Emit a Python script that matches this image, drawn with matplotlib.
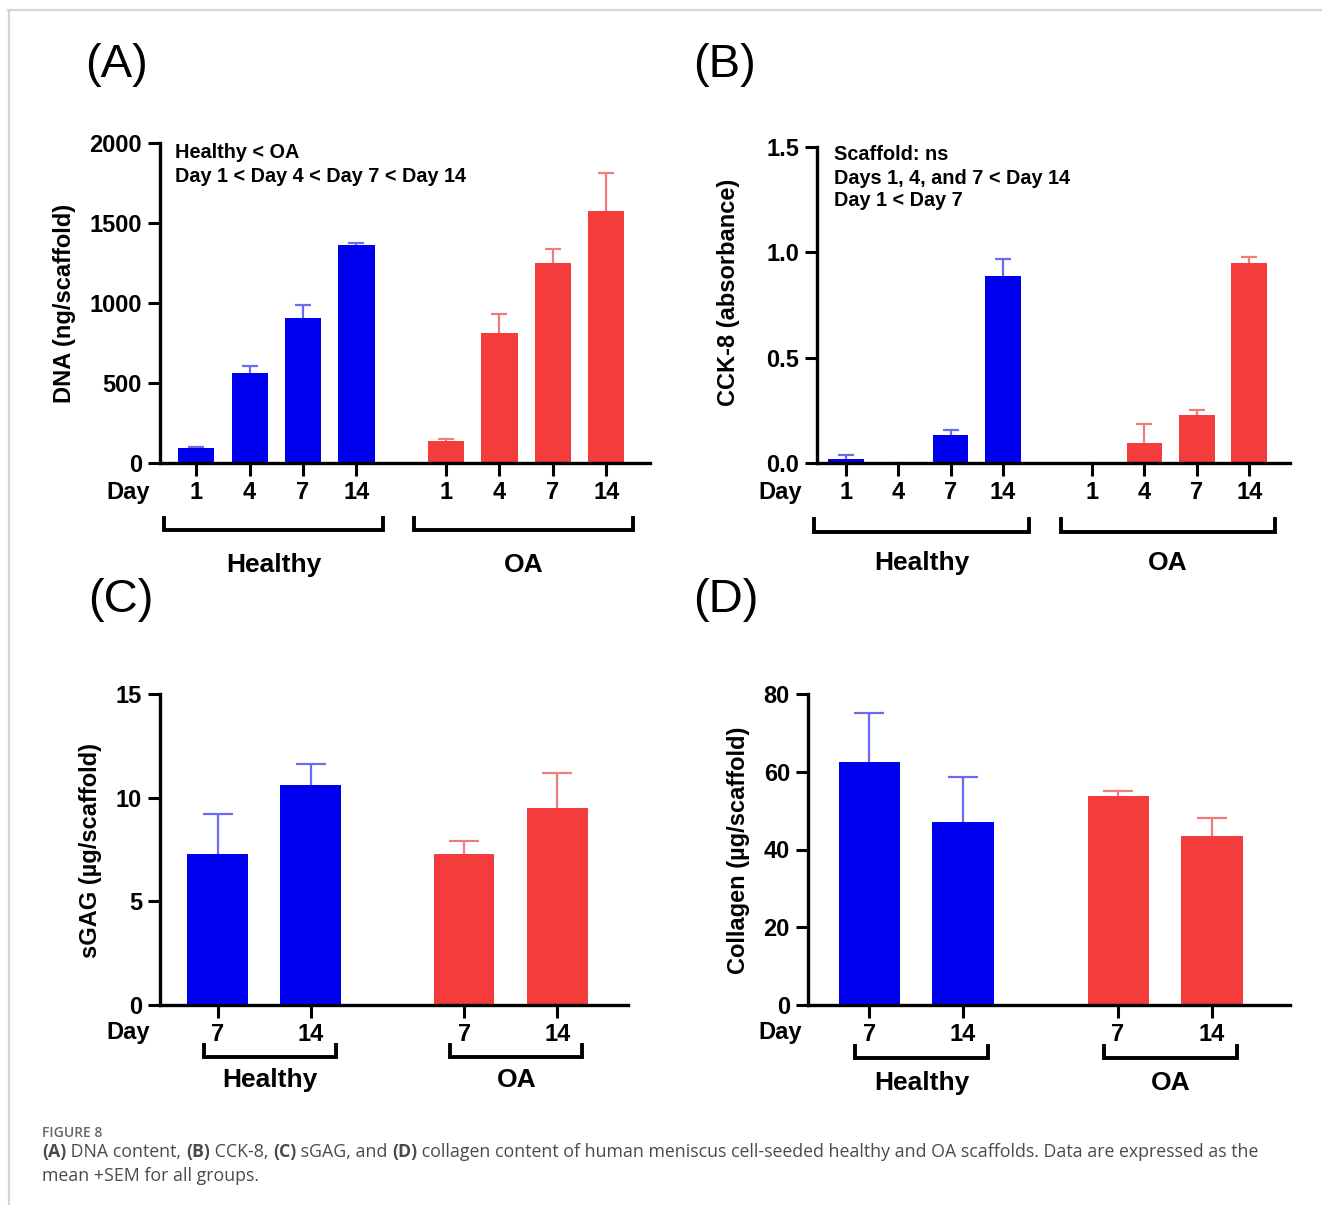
import numpy as np
import matplotlib
matplotlib.use("Agg")
import matplotlib.pyplot as plt
from matplotlib.lines import Line2D
from matplotlib.transforms import blended_transform_factory

# ---- data ----
days_a = ["1", "4", "7", "14"]
dna_healthy = [94, 562, 906, 1362]
dna_healthy_sem = [4, 44, 80, 16]
dna_oa = [137, 812, 1250, 1575]
dna_oa_sem = [12, 118, 90, 240]

cck_healthy = [0.019, 0.0, 0.133, 0.89]
cck_healthy_sem = [0.02, 0.0, 0.024, 0.077]
cck_oa = [0.0, 0.095, 0.228, 0.95]
cck_oa_sem = [0.0, 0.09, 0.022, 0.03]

days_c = ["7", "14"]
sgag_healthy = [7.3, 10.6]
sgag_healthy_sem = [1.9, 1.0]
sgag_oa = [7.3, 9.5]
sgag_oa_sem = [0.6, 1.7]

coll_healthy = [62.5, 47.0]
coll_healthy_sem = [12.5, 11.6]
coll_oa = [53.7, 43.4]
coll_oa_sem = [1.3, 4.6]

groups = ["Healthy", "OA"]

BLUE = "#0000F0"
RED = "#F43C3C"
BLUE_ERR = "#6A6AF2"
RED_ERR = "#F07C7C"

W, H = 1322, 1205
BOLD = ["Liberation Sans", "DejaVu Sans"]

fig = plt.figure(figsize=(W / 100, H / 100), dpi=100)
fig.patch.set_facecolor("white")


def fx(px):
    return px / W


def fy(py):
    return 1 - py / H


def ax_px(l, t, r, b):
    return fig.add_axes([fx(l), fy(b), fx(r) - fx(l), (b - t) / H])


def sem_bars(ax, x, vals, sem, color, capsize):
    n = len(vals)
    eb = ax.errorbar(x, vals, yerr=[np.zeros(n), sem], fmt="none", ecolor=color,
                     elinewidth=1.6, capsize=capsize, capthick=1.6, zorder=1)
    # only the upper cap is shown (mean + SEM)
    eb[1][0].remove()


def draw_panel(ax, h_vals, h_sem, o_vals, o_sem, days, gap, width, xlim, ylim,
               yticks, ytick_fmt, capsize, bracket_y, tip_y, label_y, ext):
    n = len(h_vals)
    xh = np.arange(n)
    xo = np.arange(n) + n - 1 + gap
    ax.bar(xh, h_vals, width=width, color=BLUE, zorder=2)
    ax.bar(xo, o_vals, width=width, color=RED, zorder=2)
    sem_bars(ax, xh, h_vals, h_sem, BLUE_ERR, capsize)
    sem_bars(ax, xo, o_vals, o_sem, RED_ERR, capsize)
    ax.set_xlim(*xlim)
    ax.set_ylim(*ylim)
    ax.set_yticks(yticks)
    ax.set_yticklabels([ytick_fmt.format(v) for v in yticks])
    ax.set_xticks(np.concatenate([xh, xo]))
    ax.set_xticklabels(days + days)
    for s in ["top", "right"]:
        ax.spines[s].set_visible(False)
    for s in ["left", "bottom"]:
        ax.spines[s].set_linewidth(2.4)
    ax.tick_params(axis="both", length=9, width=2.2, labelsize=17, pad=4)
    for lab in ax.get_xticklabels() + ax.get_yticklabels():
        lab.set_family(BOLD)
        lab.set_fontweight("bold")
    # group brackets under the axis
    tr = blended_transform_factory(ax.transData, fig.transFigure)
    for xs, name in [(xh, groups[0]), (xo, groups[1])]:
        x0, x1 = xs[0] - ext[0], xs[-1] + ext[1]
        ax.add_line(Line2D([x0, x0, x1, x1], [fy(tip_y), fy(bracket_y), fy(bracket_y), fy(tip_y)],
                           transform=tr, color="black", lw=2.8, clip_on=False,
                           solid_joinstyle="miter"))
        ax.text((x0 + x1) / 2, fy(label_y), name, transform=tr, ha="center", va="center",
                fontsize=19, fontweight="bold", family=BOLD)


# (A) DNA
axA = ax_px(160, 143, 650, 463)
draw_panel(axA, dna_healthy, dna_healthy_sem, dna_oa, dna_oa_sem, days_a, 1.68, 0.68,
           (-0.68, 8.5), (0, 2000), [0, 500, 1000, 1500, 2000], "{:.0f}", 6,
           530, 518, 565, (0.6, 0.5))
# (B) CCK-8
axB = ax_px(817, 147, 1290, 463)
draw_panel(axB, cck_healthy, cck_healthy_sem, cck_oa, cck_oa_sem, days_a, 1.7, 0.68,
           (-0.55, 8.48), (0, 1.5), [0.0, 0.5, 1.0, 1.5], "{:.1f}", 6,
           532, 519, 563, (0.6, 0.5))
# (C) sGAG
axC = ax_px(160, 694, 628, 1005)
draw_panel(axC, sgag_healthy, sgag_healthy_sem, sgag_oa, sgag_oa_sem, days_c, 1.65, 0.65,
           (-0.62, 4.41), (0, 15), [0, 5, 10, 15], "{:.0f}", 11,
           1057, 1045, 1080, (0.15, 0.27))
# (D) Collagen
axD = ax_px(808, 694, 1290, 1005)
draw_panel(axD, coll_healthy, coll_healthy_sem, coll_oa, coll_oa_sem, days_c, 1.65, 0.65,
           (-0.65, 4.48), (0, 80), [0, 20, 40, 60, 80], "{:.0f}", 11,
           1058, 1046, 1083, (0.15, 0.27))

# axis titles
ylabels = [("DNA (ng/scaffold)", 65, 303), ("CCK-8 (absorbance)", 728, 292),
           ("sGAG (µg/scaffold)", 90, 850), ("Collagen (µg/scaffold)", 738, 850)]
for txt, x, y in ylabels:
    fig.text(fx(x), fy(y), txt, rotation=90, ha="center", va="center",
             fontsize=17, fontweight="bold", family=BOLD)

# "Day" row labels
for x, y in [(128, 493), (780, 493), (128, 1033), (780, 1033)]:
    fig.text(fx(x), fy(y), "Day", ha="center", va="center",
             fontsize=17, fontweight="bold", family=BOLD)

# statistics notes
notes = [("Healthy < OA", 175, 152), ("Day 1 < Day 4 < Day 7 < Day 14", 175, 176),
         ("Scaffold: ns", 834, 155), ("Days 1, 4, and 7 < Day 14", 834, 178),
         ("Day 1 < Day 7", 834, 201)]
for txt, x, y in notes:
    fig.text(fx(x), fy(y), txt, ha="left", va="center",
             fontsize=14.3, fontweight="bold", family=BOLD)

# panel letters
for txt, x, y in [("(A)", 85, 65), ("(B)", 693, 65), ("(C)", 88, 600), ("(D)", 693, 600)]:
    fig.text(fx(x), fy(y), txt, ha="left", va="center", fontsize=34,
             family=["Liberation Sans", "DejaVu Sans"])

# light frame
fig.add_artist(Line2D([fx(8), fx(1322)], [fy(10), fy(10)], color="#d4d4d4", lw=1.6))
fig.add_artist(Line2D([fx(9), fx(9)], [fy(10), fy(1205)], color="#d4d4d4", lw=1.6))

# caption
CAP = ["Open Sans", "DejaVu Sans"]
fig.text(fx(42), fy(1133), "FIGURE 8", ha="left", va="center", fontsize=10,
         fontweight="semibold", color="#666666", family=CAP)

renderer = fig.canvas.get_renderer()


def rich_line(parts, x, y, size, color):
    cur = fx(x)
    for txt, weight in parts:
        t = fig.text(cur, fy(y), txt, ha="left", va="center", fontsize=size,
                     fontweight=weight, color=color, family=CAP)
        bb = t.get_window_extent(renderer=renderer)
        cur += bb.width / W


caption1 = [("(A)", "bold"), (" DNA content, ", "normal"), ("(B)", "bold"),
            (" CCK-8, ", "normal"), ("(C)", "bold"), (" sGAG, and ", "normal"),
            ("(D)", "bold"),
            (" collagen content of human meniscus cell-seeded healthy and OA scaffolds. "
             "Data are expressed as the", "normal")]
rich_line(caption1, 42, 1152, 12.8, "#4a4a4a")
rich_line([("mean +SEM for all groups.", "normal")], 42, 1176, 12.8, "#4a4a4a")

fig.savefig("out.png", dpi=100, facecolor="white")
